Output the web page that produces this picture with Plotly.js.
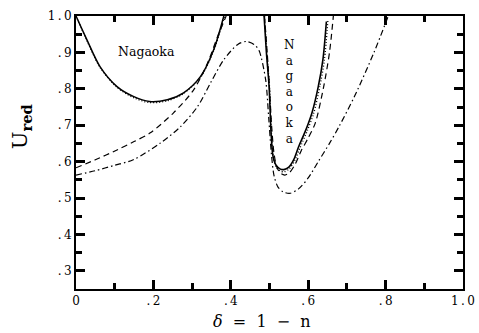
<!DOCTYPE html>
<html>
<head>
<meta charset="utf-8">
<script src="https://cdn.plot.ly/plotly-3.0.1.min.js"></script>
<style>
  html, body { margin: 0; padding: 0; background: #fff; }
  #chart { width: 479px; height: 333px; }
</style>
</head>
<body>
<div id="chart"></div>
<script>
// Reduced energy U_red versus doping delta = 1 - n.
// Left branches (low doping)
const solidLeftX  = [0, 0.028, 0.062, 0.106, 0.148, 0.19, 0.236, 0.278, 0.322, 0.356, 0.382];
const solidLeftY  = [1.0, 0.935, 0.861, 0.806, 0.779, 0.765, 0.770, 0.789, 0.834, 0.908, 1.0];
const dottedLeftX = [0, 0.028, 0.062, 0.106, 0.148, 0.19, 0.236, 0.278, 0.322, 0.356, 0.384];
const dottedLeftY = [1.0, 0.933, 0.859, 0.804, 0.776, 0.762, 0.767, 0.787, 0.832, 0.905, 1.0];
const dashedLeftX = [0, 0.05, 0.106, 0.15, 0.192, 0.252, 0.304, 0.34, 0.366, 0.388];
const dashedLeftY = [0.583, 0.605, 0.632, 0.655, 0.679, 0.734, 0.797, 0.871, 0.944, 1.0];

// Right branches (near delta ~ 0.5)
const solidRightX  = [0.486, 0.492, 0.499, 0.504, 0.509, 0.517, 0.527, 0.537, 0.55, 0.563, 0.575, 0.595, 0.61, 0.626, 0.638, 0.647];
const solidRightY  = [1.0, 0.9, 0.806, 0.68, 0.615, 0.59, 0.58, 0.578, 0.585, 0.606, 0.64, 0.69, 0.735, 0.806, 0.88, 0.985];
const dottedRightX = [0.487, 0.493, 0.5, 0.505, 0.51, 0.518, 0.528, 0.538, 0.551, 0.565, 0.578, 0.598, 0.614, 0.63, 0.642, 0.651];
const dottedRightY = [1.0, 0.9, 0.806, 0.68, 0.61, 0.584, 0.574, 0.572, 0.58, 0.602, 0.636, 0.686, 0.732, 0.806, 0.88, 0.99];
const dashedRightX = [0.487, 0.494, 0.5, 0.506, 0.512, 0.52, 0.53, 0.54, 0.552, 0.566, 0.582, 0.6, 0.618, 0.64, 0.655, 0.665];
const dashedRightY = [1.0, 0.9, 0.8, 0.69, 0.62, 0.582, 0.567, 0.563, 0.57, 0.592, 0.63, 0.665, 0.705, 0.806, 0.9, 1.0];

// Dash-dot curve spans the whole range
const dashDotX = [0, 0.05, 0.1, 0.148, 0.218, 0.27, 0.314, 0.348, 0.382, 0.418, 0.44, 0.46, 0.473, 0.49, 0.498, 0.505, 0.512, 0.522, 0.535, 0.553, 0.575, 0.6, 0.626, 0.655, 0.68, 0.72, 0.77, 0.807];
const dashDotY = [0.563, 0.575, 0.59, 0.605, 0.651, 0.696, 0.751, 0.817, 0.88, 0.922, 0.93, 0.922, 0.905, 0.825, 0.72, 0.62, 0.56, 0.53, 0.517, 0.513, 0.525, 0.555, 0.6, 0.65, 0.697, 0.78, 0.9, 1.0];

// Axis ticks
const xTickVals = [0, 0.2, 0.4, 0.6, 0.8, 1.0];
const xTickText = ['0', '.2', '.4', '.6', '.8', '1.0'];
const yTickVals = [0.3, 0.4, 0.5, 0.6, 0.7, 0.8, 0.9, 1.0];
const yTickText = ['.3', '.4', '.5', '.6', '.7', '.8', '.9', '1.0'];

const spaced = s => s.split('').join('\u2009');

function line(x, y, dash, width) {
  return {
    x: x, y: y, type: 'scatter', mode: 'lines',
    line: { color: '#000', width: width, dash: dash, shape: 'spline', smoothing: 0.8 },
    hoverinfo: 'skip', showlegend: false
  };
}

const traces = [
  line(dottedLeftX, dottedLeftY, '1px,2px', 1.3),
  line(dashedLeftX, dashedLeftY, '6px,4px', 1.2),
  line(solidLeftX, solidLeftY, 'solid', 1.5),
  line(dottedRightX, dottedRightY, '1px,2px', 1.3),
  line(dashedRightX, dashedRightY, '6px,4px', 1.2),
  line(solidRightX, solidRightY, 'solid', 1.6),
  line(dashDotX, dashDotY, '6px,3px,1.5px,3px', 1.2)
];

const tickFont = { family: 'DejaVu Serif', size: 12, color: '#000' };

const baseAxis = {
  ticks: 'inside', ticklen: 9, tickwidth: 3, tickcolor: '#000',
  showline: true, linecolor: '#000', linewidth: 2, mirror: 'ticks',
  showgrid: false, zeroline: false, autorange: false, tickfont: tickFont
};

const layout = {
  width: 479, height: 333,
  margin: { l: 76, r: 16, t: 16, b: 44 },
  paper_bgcolor: '#fff', plot_bgcolor: '#fff',
  xaxis: Object.assign({}, baseAxis, {
    range: [0, 1], tickmode: 'array', tickvals: xTickVals, ticktext: xTickText.map(spaced),
    minor: { tickmode: 'linear', tick0: 0, dtick: 0.1, ticks: 'inside', ticklen: 6, tickwidth: 3, tickcolor: '#000', showgrid: false }
  }),
  yaxis: Object.assign({}, baseAxis, {
    range: [0.25, 1.0], tickmode: 'array', tickvals: yTickVals, ticktext: yTickText.map(spaced),
    minor: { tickmode: 'linear', tick0: 0.25, dtick: 0.05, ticks: 'inside', ticklen: 6, tickwidth: 3, tickcolor: '#000', showgrid: false }
  }),
  annotations: [
    { text: 'Nagaoka', x: 0.183, y: 0.902, xref: 'x', yref: 'y', showarrow: false,
      font: { family: 'DejaVu Serif', size: 12.5, color: '#000' } },
    { text: 'N<br>a<br>g<br>a<br>o<br>k<br>a', x: 0.551, y: 0.79, xref: 'x', yref: 'y', showarrow: false,
      font: { family: 'DejaVu Serif', size: 12, color: '#000' } },
    { text: '<i>δ</i>\u00a0\u00a0=\u00a0\u00a01\u00a0\u00a0\u2212\u00a0\u00a0n', x: 0.48, y: -0.118, xref: 'paper', yref: 'paper',
      xanchor: 'center', yanchor: 'middle', showarrow: false,
      font: { family: 'DejaVu Serif', size: 16, color: '#000' } },
    { text: 'U<sub><b>red</b></sub>', x: -0.143, y: 0.595, xref: 'paper', yref: 'paper',
      xanchor: 'center', yanchor: 'middle', textangle: -90, showarrow: false,
      font: { family: 'DejaVu Serif', size: 21, color: '#000' } }
  ]
};

Plotly.newPlot('chart', traces, layout, { staticPlot: true, displayModeBar: false });
</script>
</body>
</html>
